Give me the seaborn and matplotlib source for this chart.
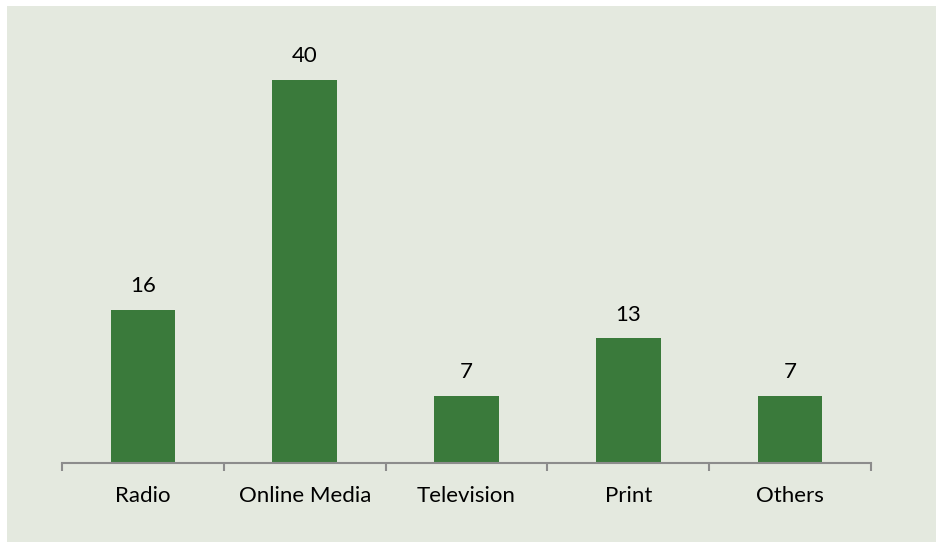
import matplotlib
matplotlib.use("Agg")
import matplotlib.pyplot as plt
import seaborn as sns
import pandas as pd
from matplotlib.patches import Rectangle
from matplotlib.ticker import FixedLocator

categories = ["Radio", "Online Media", "Television", "Print", "Others"]
values = [16, 40, 7, 13, 7]

sns.set_style("white")
plt.rcParams['font.family'] = ['Lato', 'DejaVu Sans']

BG = "#e4e9df"
BAR = "#3a7a3b"
AX = "#8c8c8c"

W, H = 936, 542
fig = plt.figure(figsize=(W / 100, H / 100), dpi=100, facecolor="white")
fig.patches.append(Rectangle((7 / W, 0), 1 - 7 / W, 1 - 6 / H, transform=fig.transFigure,
                             facecolor=BG, edgecolor="none", zorder=-10))
ax = fig.add_axes([62 / W, (H - 463) / H, (871 - 62) / W, (463 - 32) / H])
ax.set_facecolor("none")

df = pd.DataFrame({"category": categories, "value": values})
sns.barplot(data=df, x="category", y="value", color=BAR, saturation=1, width=0.4,
            edgecolor="none", linewidth=0, ax=ax)

ax.set_xlim(-0.5, len(categories) - 0.5)
ax.set_ylim(0, 45)
for c in ax.containers:
    ax.bar_label(c, labels=[str(v) for v in values], padding=10, fontsize=16, color="black")

ax.set_xlabel("")
ax.set_ylabel("")
ax.set_yticks([])
for s in ["top", "right", "left"]:
    ax.spines[s].set_visible(False)
ax.spines["bottom"].set_color(AX)
ax.spines["bottom"].set_linewidth(1.5)
ax.xaxis.set_minor_locator(FixedLocator([i - 0.5 for i in range(len(categories) + 1)]))
ax.tick_params(axis="x", which="major", length=0, pad=16.5, labelsize=16, labelcolor="black")
ax.tick_params(axis="x", which="minor", length=6, width=1.5, color=AX, direction="out", bottom=True)

fig.savefig("out.png", dpi=100, facecolor="white")
